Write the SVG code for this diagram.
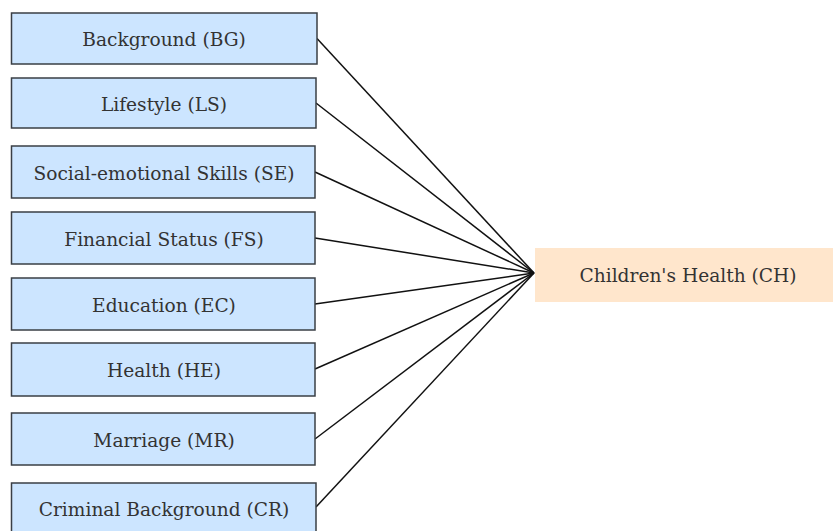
<svg xmlns="http://www.w3.org/2000/svg" width="833" height="531" viewBox="0 0 833 531">
<style>
.src rect{fill:#cce5ff;stroke:#3a3f45;stroke-width:1.5}
.src text,.tgt text{font-family:"DejaVu Serif","Liberation Serif",serif;font-size:18.6px;fill:#333;text-anchor:middle}
.tgt rect{fill:#ffe6cc;stroke:none}
#connectors line{stroke:#111;stroke-width:1.5}
</style>
<rect width="833" height="531" fill="#fff"/>
<g id="connectors">
<line x1="317" y1="38.5" x2="534" y2="273"/>
<line x1="316" y1="103" x2="534" y2="273"/>
<line x1="315" y1="172" x2="534" y2="273"/>
<line x1="315" y1="238" x2="534" y2="273"/>
<line x1="315" y1="304" x2="534" y2="273"/>
<line x1="315" y1="369" x2="534" y2="273"/>
<line x1="315" y1="439" x2="534" y2="273"/>
<line x1="316" y1="507" x2="534" y2="273"/>
</g>
<g id="BG" class="src"><rect x="11.5" y="13" width="305.5" height="51"/><text x="164" y="46">Background (BG)</text></g>
<g id="LS" class="src"><rect x="11.5" y="78" width="304.5" height="50"/><text x="164" y="110.5">Lifestyle (LS)</text></g>
<g id="SE" class="src"><rect x="11.5" y="146" width="303.5" height="52"/><text x="164" y="179.5">Social-emotional Skills (SE)</text></g>
<g id="FS" class="src"><rect x="11.5" y="212" width="303.5" height="52"/><text x="164" y="245.5">Financial Status (FS)</text></g>
<g id="EC" class="src"><rect x="11.5" y="278" width="303.5" height="52"/><text x="164" y="311.5">Education (EC)</text></g>
<g id="HE" class="src"><rect x="11.5" y="343" width="303.5" height="53"/><text x="164" y="377">Health (HE)</text></g>
<g id="MR" class="src"><rect x="11.5" y="413" width="303.5" height="52"/><text x="164" y="446.5">Marriage (MR)</text></g>
<g id="CR" class="src"><rect x="11.5" y="483" width="304.5" height="52"/><text x="164" y="516">Criminal Background (CR)</text></g>
<g id="CH" class="tgt"><rect x="535" y="248" width="300" height="54"/><text x="688" y="282">Children's Health (CH)</text></g>
</svg>
